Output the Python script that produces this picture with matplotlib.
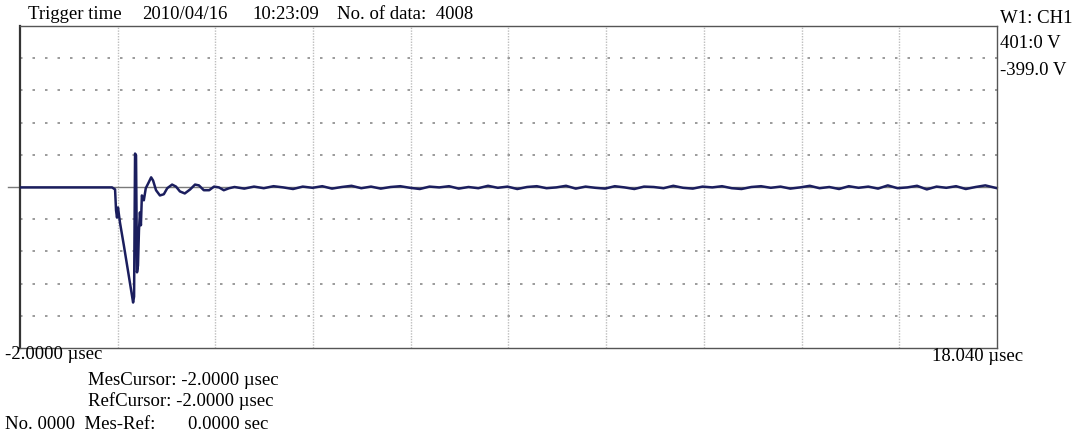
import matplotlib
matplotlib.use("Agg")
import matplotlib.pyplot as plt
import numpy as np

plt.rcParams['font.family'] = ['Liberation Serif', 'DejaVu Serif']

# time axis limits (usec) and voltage range (V)
t_start, t_end = -2.0, 18.04
v_top, v_bottom = 401.0, -399.0

# trace around the trigger event
event_t = [-2.0, -0.113, -0.05, -0.03, -0.01, 0.01, 0.05, 0.13, 0.22, 0.28, 0.32,
           0.34, 0.36, 0.38, 0.40, 0.42, 0.44, 0.46, 0.48, 0.50, 0.54, 0.58, 0.63,
           0.69, 0.73, 0.79, 0.87, 0.95, 1.02, 1.12, 1.20, 1.28, 1.38, 1.49, 1.59,
           1.67, 1.77, 1.88, 1.98, 2.08, 2.18, 2.29]
event_v = [0, 0, -5, -57, -75, -50, -87, -144, -211, -256, -286,
           -271, 84, 80, -211, -194, -107, -62, -94, -20, -32, -2, 10,
           25, 17, -7, -20, -17, -2, 7, 2, -10, -15, -5, 7,
           5, -7, -7, 2, 0, -7, -2]

# residual noise after the ringing has died out
tail_t = [2.4, 2.6, 2.8, 3.0, 3.2, 3.4, 3.6, 3.8, 4.0, 4.2, 4.4, 4.6, 4.8, 5.0,
          5.2, 5.4, 5.6, 5.8, 6.0, 6.2, 6.4, 6.6, 6.8, 7.0, 7.2, 7.4, 7.6, 7.8,
          8.0, 8.2, 8.4, 8.6, 8.8, 9.0, 9.2, 9.4, 9.6, 9.8, 10.0, 10.2, 10.4,
          10.6, 10.8, 11.0, 11.2, 11.4, 11.6, 11.8, 12.0, 12.2, 12.4, 12.6, 12.8,
          13.0, 13.2, 13.4, 13.6, 13.8, 14.0, 14.2, 14.4, 14.6, 14.8, 15.0, 15.2,
          15.4, 15.6, 15.8, 16.0, 16.2, 16.4, 16.6, 16.8, 17.0, 17.2, 17.4, 17.6,
          17.8, 18.04]
tail_v = [1, -3, 2, -2, 3, 0, -4, 2, -1, 3, -3, 1, 4, -2, 2, -3, 1, 3, -1, -4,
          2, 0, 3, -3, 1, -2, 4, -1, 2, -4, 1, 3, -2, 0, 4, -3, 2, -1, -3, 3,
          0, -4, 2, 1, -2, 4, -1, -3, 2, 0, 3, -2, -4, 1, 3, -1, 2, -3, 0, 4,
          -2, 1, -4, 3, -1, 2, -3, 5, -2, 0, 4, -5, 2, -1, 3, -4, 1, 5, -2]

time_us = event_t + tail_t
volts = event_v + tail_v

fig = plt.figure(figsize=(10.77, 4.38), dpi=100)
W, H = 1077, 438
ax = fig.add_axes([20 / W, 1 - 348 / H, 977 / W, 322 / H])
ax.set_xlim(t_start, t_end)
ax.set_ylim(v_bottom, v_top)

# grid: 10 x 10 divisions
xs = np.linspace(t_start, t_end, 11)
ys = np.linspace(v_bottom, v_top, 11)
for x in xs[1:-1]:
    ax.axvline(x, color='#bdbdbd', lw=1.0, ls=(0, (1, 1)), zorder=1)
for y in ys[1:-1]:
    if abs(y - (v_top + v_bottom) / 2) < 1:
        continue
    ax.axhline(y, color='#8a8a8a', lw=1.2, ls=(0, (1.5, 6)), zorder=1)

# zero reference line, reaching slightly past the left edge
ax.plot([t_start - 0.25, t_end], [0, 0], color='#7a7a7a', lw=1.0,
        clip_on=False, zorder=2)

ax.plot(time_us, volts, color='#1b1e5e', lw=1.8, zorder=3)

for side in ['top', 'right', 'bottom']:
    ax.spines[side].set_color('#555555')
    ax.spines[side].set_linewidth(1.0)
ax.spines['left'].set_color('#333333')
ax.spines['left'].set_linestyle((0, (1, 1)))
ax.spines['left'].set_linewidth(1.6)
ax.set_xticks([])
ax.set_yticks([])

fs = 13.5


def label(x, y, s):
    fig.text(x / W, 1 - y / H, s, fontsize=fs, va='baseline')


label(28, 19, 'Trigger time')
label(142, 19, '2010/04/16')
label(252, 19, '10:23:09')
label(337, 19, 'No. of data:  4008')
label(1000, 23, 'W1: CH1')
label(1000, 48, '401:0 V')
label(1000, 75, '-399.0 V')
label(5, 359, '-2.0000 µsec')
label(932, 361, '18.040 µsec')
label(88, 385, 'MesCursor: -2.0000 µsec')
label(88, 406, 'RefCursor: -2.0000 µsec')
label(5, 429, 'No. 0000  Mes-Ref:')
label(188, 429, '0.0000 sec')

fig.savefig('out.png', dpi=100)
